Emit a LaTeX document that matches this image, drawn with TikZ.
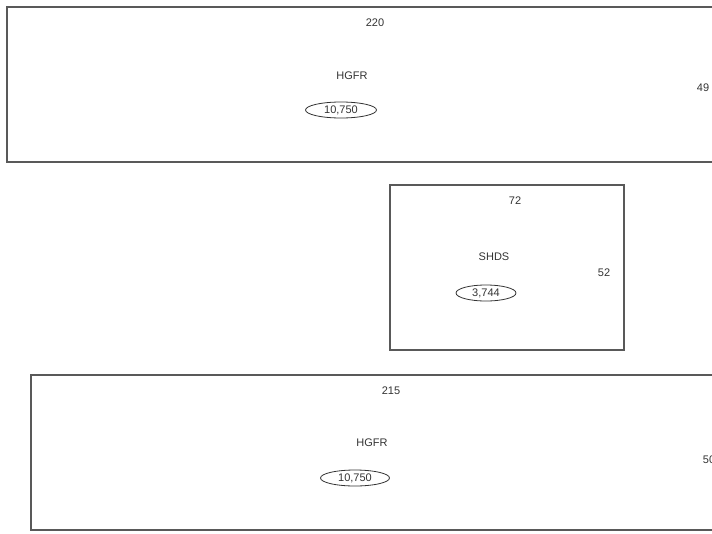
\documentclass[tikz,border=0pt]{standalone}
\usepackage{fontspec}
\setmainfont{Liberation Sans}
\usetikzlibrary{shapes.geometric}

\tikzset{
  unitbox/.style={draw=black!65,line width=1.4pt},
  lbl/.style={font=\fontsize{11}{13}\selectfont,text=black!80,inner sep=0pt},
  count/.style={lbl,draw=black!80,line width=0.8pt,ellipse,minimum height=16pt},
}

\begin{document}
\begin{tikzpicture}[x=1pt,y=-1pt]
  \useasboundingbox (0,0) rectangle (712,533);
  \clip (0,0) rectangle (712,533);
  % top block
  \draw[unitbox] (7,7) rectangle (730,162);
  \node[lbl] (topnum) at (375,23) {220};
  \node[lbl] (topname) at (352,76) {HGFR};
  \node[count,minimum width=71pt] (topcount) at (341,110) {10,750};
  \node[lbl] (topside) at (703,88) {49};
  % middle block
  \draw[unitbox] (390,185) rectangle (624,350);
  \node[lbl] (midnum) at (515,201) {72};
  \node[lbl] (midname) at (494,257) {SHDS};
  \node[count,minimum width=60pt] (midcount) at (486,293) {3,744};
  \node[lbl] (midside) at (604,273) {52};
  % bottom block
  \draw[unitbox] (31,375) rectangle (730,530);
  \node[lbl] (botnum) at (391,391) {215};
  \node[lbl] (botname) at (372,443) {HGFR};
  \node[count,minimum width=69pt] (botcount) at (355,478) {10,750};
  \node[lbl] (botside) at (709,460) {50};
\end{tikzpicture}
\end{document}
